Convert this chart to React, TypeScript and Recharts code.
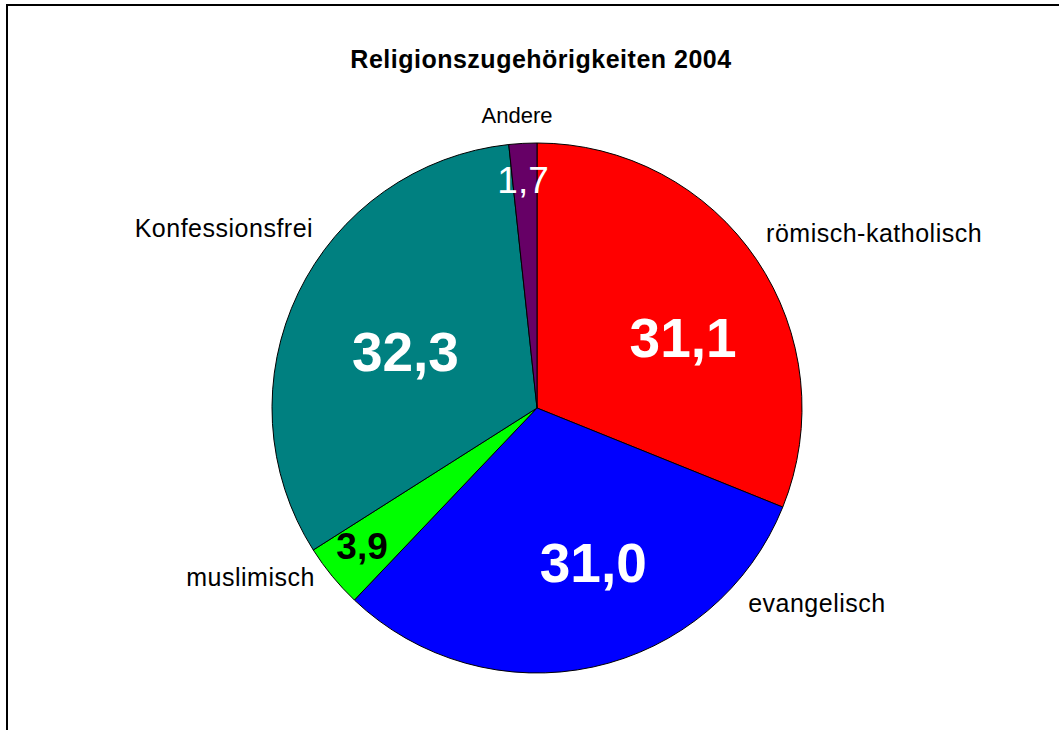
import { PieChart, Pie, Cell } from "recharts"

const categories = ["römisch-katholisch", "evangelisch", "muslimisch", "Konfessionsfrei", "Andere"]
const shares = [31.1, 31.0, 3.9, 32.3, 1.7]
const valueLabels = ["31,1", "31,0", "3,9", "32,3", "1,7"]
const sliceColors = ["#FF0000", "#0000FF", "#00FF00", "#008080", "#660066"]

// label placement (angle shift from mid angle / radius) for the numbers inside
const innerShift = [-8.4, 7.7, -1.1, 2.7, 0.45]
const innerRadius = [162, 165, 223, 143, 228]
const innerStyle = [
  { size: 55, bold: true, fill: "#fff" },
  { size: 55, bold: true, fill: "#fff" },
  { size: 37, bold: true, fill: "#000" },
  { size: 55, bold: true, fill: "#fff" },
  { size: 37, bold: false, fill: "#fff" },
]
// category names outside the pie: polar position of the baseline anchor
const outerAngle = [35.9, -44.0, -141.3, 142.6, 94.0]
const outerRadius = [282.8, 293.5, 284.6, 281.8, 285.7]
const outerAnchor = ["start", "start", "end", "end", "middle"]

const FONT = "Arial, 'Liberation Sans', Helvetica, sans-serif"
const RAD = Math.PI / 180

const chartData = categories.map((name, i) => ({ name, value: shares[i] }))

function renderLabel(props: any) {
  const { index, midAngle } = props
  const cx = props.cx ?? 537
  const cy = props.cy ?? 408
  const a = midAngle + innerShift[index]
  const r = innerRadius[index]
  const ix = cx + r * Math.cos(-a * RAD)
  const iy = cy + r * Math.sin(-a * RAD)
  const oa = outerAngle[index]
  const orr = outerRadius[index]
  const ox = cx + orr * Math.cos(-oa * RAD)
  const oy = cy + orr * Math.sin(-oa * RAD)
  const st = innerStyle[index]
  const isSmall = index === 4
  return (
    <g>
      <text
        x={ix}
        y={iy}
        textAnchor="middle"
        dominantBaseline="central"
        fill={st.fill}
        fontSize={st.size}
        fontWeight={st.bold ? "bold" : "normal"}
        fontFamily={FONT}
      >
        {valueLabels[index]}
      </text>
      <text
        x={ox}
        y={oy}
        textAnchor={outerAnchor[index] as any}
        fill="#000"
        fontSize={isSmall ? 22 : 25}
        letterSpacing={isSmall ? 0 : 0.5}
        fontFamily={FONT}
      >
        {categories[index]}
      </text>
    </g>
  )
}

export default function App() {
  return (
    <div style={{ position: "relative", width: 1059, height: 730, overflow: "hidden", background: "#fff" }}>
      <style>{`body{margin:0}`}</style>
      <div
        style={{
          position: "absolute",
          left: 6,
          top: 4,
          width: 1200,
          height: 900,
          borderTop: "2px solid #000",
          borderLeft: "2px solid #000",
        }}
      />
      <div
        style={{
          position: "absolute",
          left: 0,
          width: 1082,
          top: 47,
          textAlign: "center",
          fontFamily: FONT,
          fontWeight: "bold",
          fontSize: 25,
          lineHeight: "25px",
          letterSpacing: 0.5,
          color: "#000",
        }}
      >
        Religionszugehörigkeiten 2004
      </div>
      <div style={{ position: "absolute", left: 0, top: 0 }}>
        <PieChart width={1059} height={730} margin={{ top: 0, right: 0, bottom: 0, left: 0 }}>
          <Pie
            data={chartData}
            dataKey="value"
            nameKey="name"
            cx={537}
            cy={408}
            outerRadius={265}
            startAngle={90}
            endAngle={-270}
            stroke="#000"
            strokeWidth={1}
            label={renderLabel}
            labelLine={false}
            isAnimationActive={false}
          >
            {chartData.map((d, i) => (
              <Cell key={d.name} fill={sliceColors[i]} />
            ))}
          </Pie>
        </PieChart>
      </div>
    </div>
  )
}
